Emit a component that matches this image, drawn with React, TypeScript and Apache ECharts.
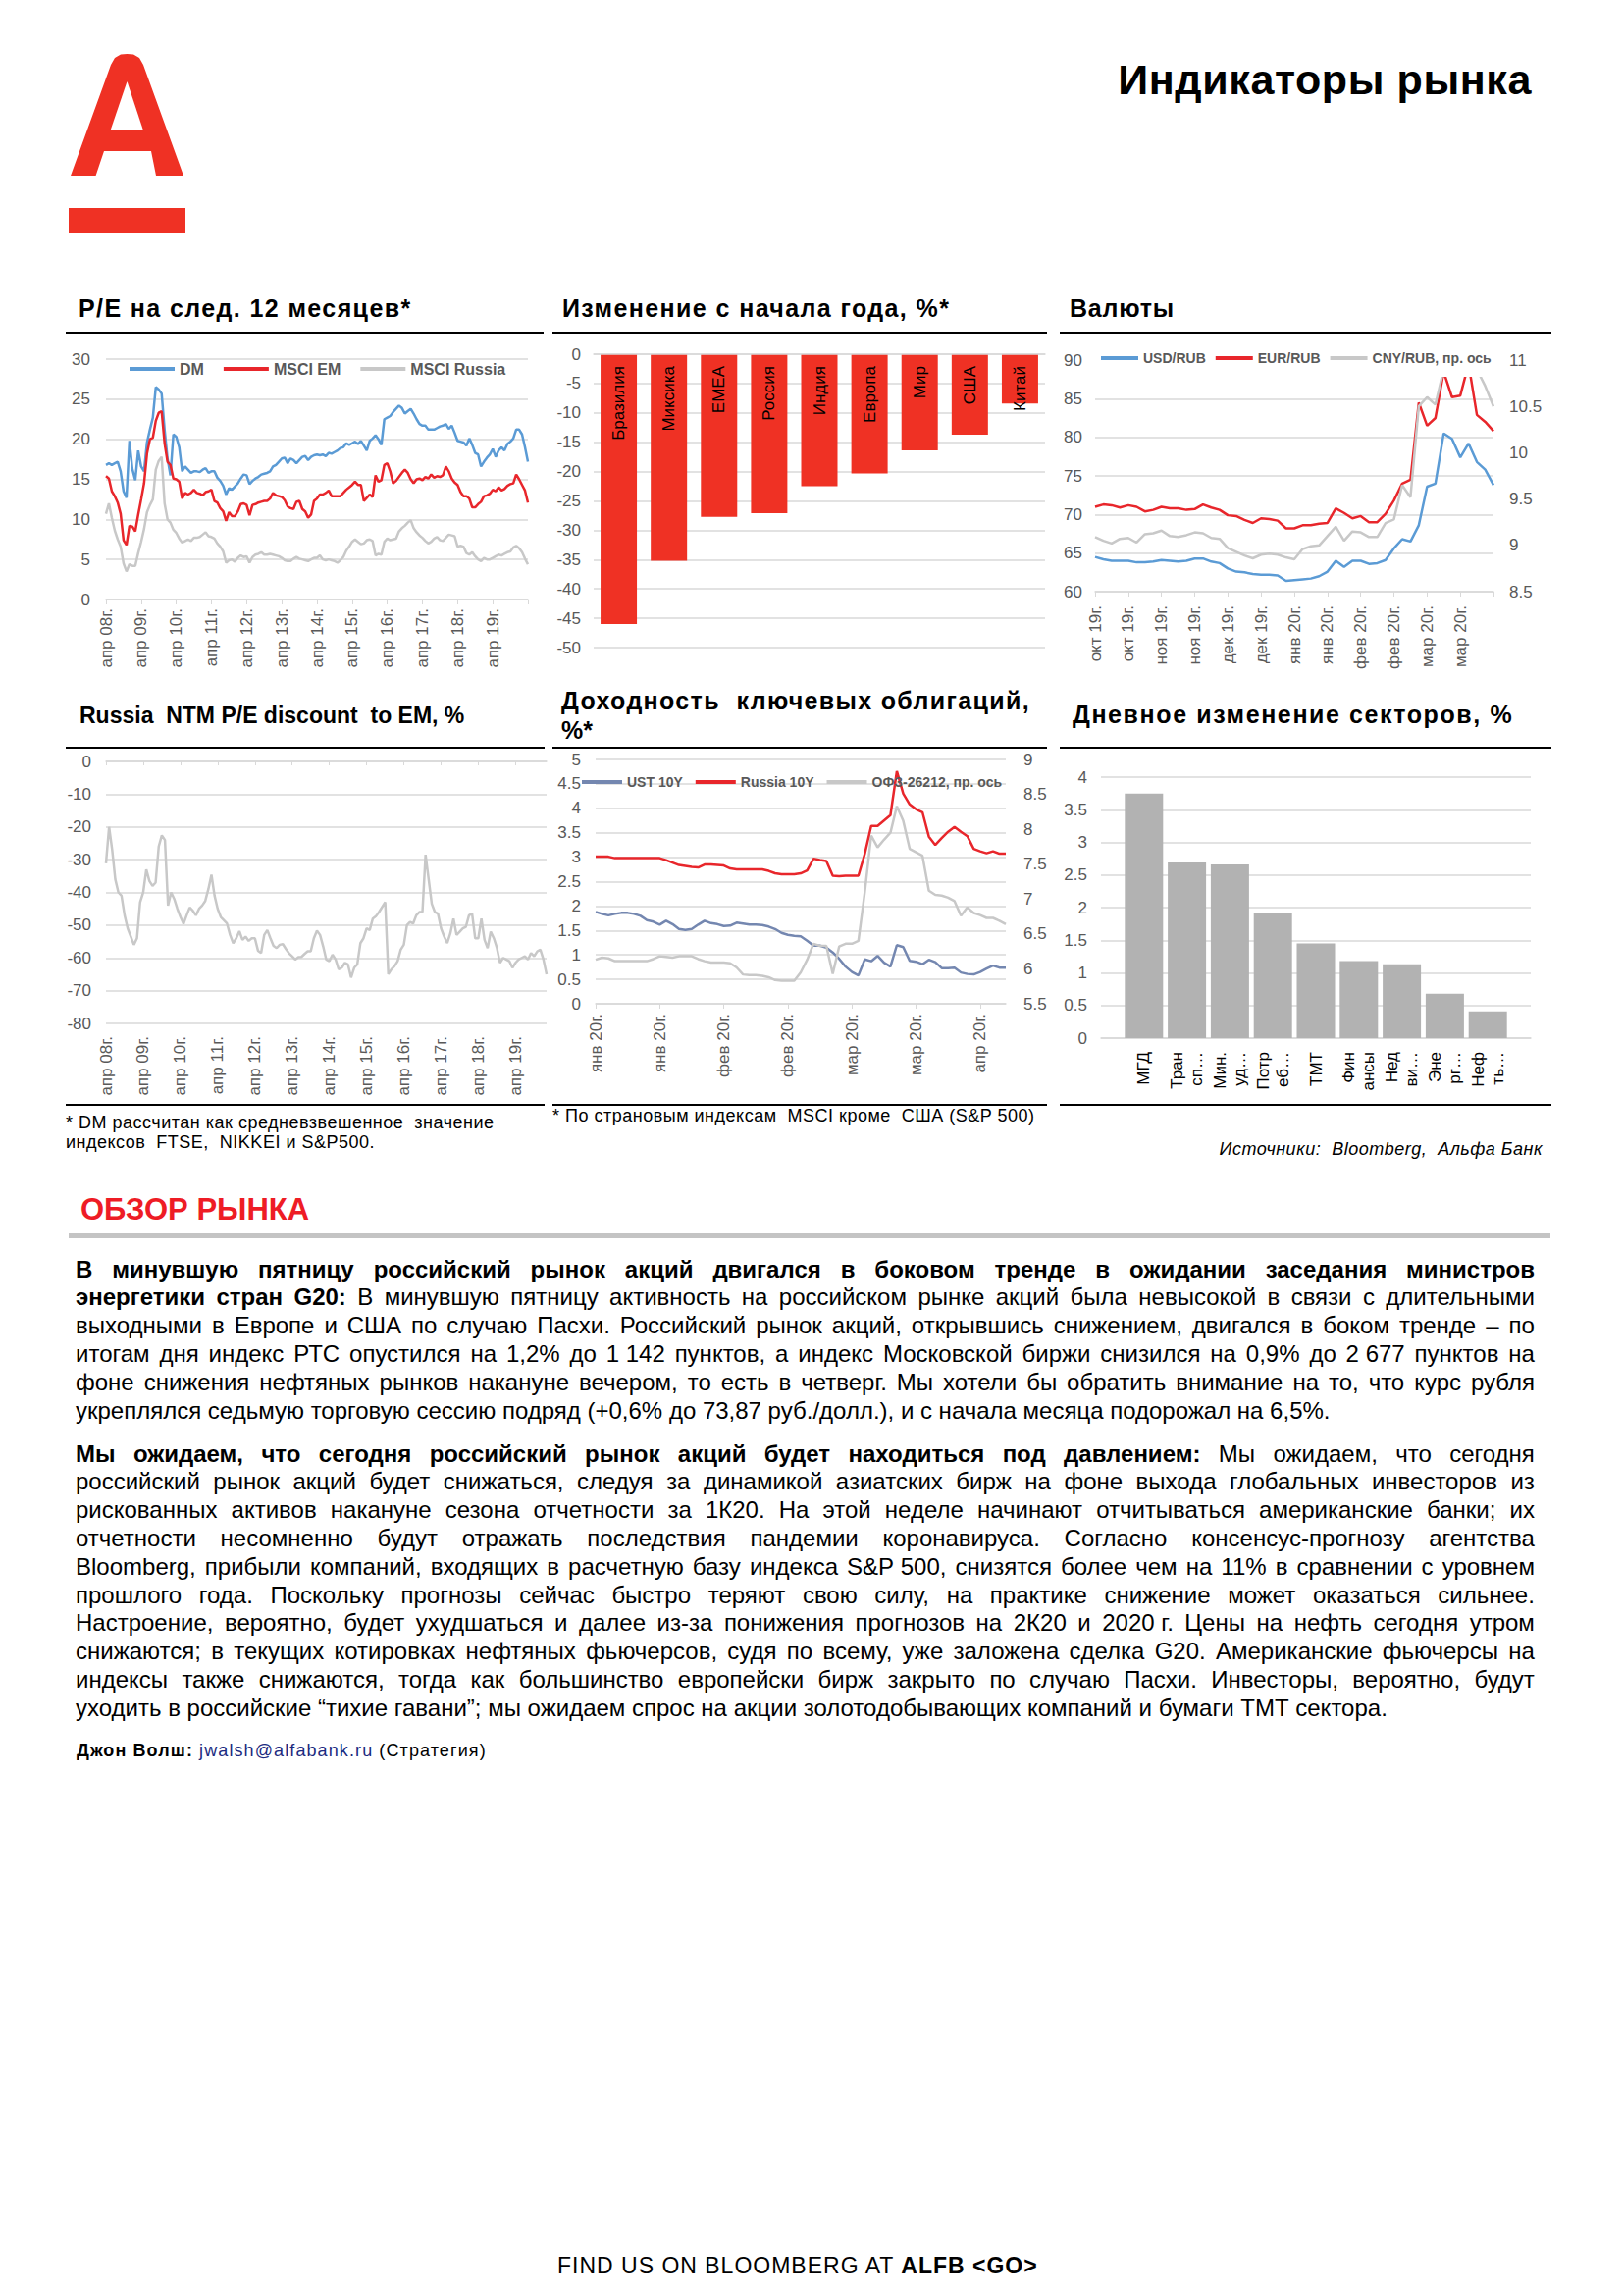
import React, { useEffect, useRef } from "react";
import * as echarts from "echarts";

// ---------- DATA ----------
const peDM = [16.8,17.0,16.8,17.0,17.2,16.0,13.5,12.7,19.8,16.3,14.9,18.6,16.6,16.0,19.6,21.2,22.7,26.5,26.2,25.7,21.2,17.6,15.5,20.6,20.3,19.0,16.0,16.6,16.2,15.8,16.0,16.0,15.9,16.2,16.4,15.8,16.0,16.0,15.2,14.8,14.2,13.1,13.9,13.7,14.1,14.5,15.1,15.6,15.5,14.4,14.8,15.1,15.3,15.6,15.7,15.8,16.0,16.6,16.8,17.2,17.6,17.7,17.0,17.6,17.4,17.0,17.4,17.8,17.9,17.4,17.8,18.0,18.1,18.0,18.1,17.9,18.3,18.2,18.4,18.6,18.9,19.0,19.5,19.3,19.5,19.7,19.4,19.8,19.2,18.6,19.8,20.1,20.5,20.0,19.3,22.5,22.7,22.9,23.4,23.8,24.2,23.9,23.2,23.5,23.8,23.2,22.5,21.9,21.7,21.7,21.2,21.2,21.2,21.4,21.6,21.7,21.9,21.3,21.7,20.8,19.8,19.7,19.6,19.2,20.1,19.3,18.3,18.1,16.6,17.2,17.7,18.1,18.8,17.8,18.6,19.0,18.6,19.4,19.7,20.1,21.2,21.2,20.6,19.0,17.2];
const peEM = [15.4,15.1,13.5,12.9,12.1,10.7,7.4,6.8,9.2,9.1,8.5,10.6,12.5,14.5,18.2,20.0,20.2,22.3,23.3,23.5,19.5,17.2,16.8,15.1,15.0,14.7,12.6,13.3,13.1,13.3,13.7,13.3,13.2,13.0,13.4,13.5,13.7,12.3,12.1,11.4,11.0,9.8,10.9,10.4,10.4,11.0,11.9,12.0,11.8,10.5,11.8,11.9,12.1,12.2,12.3,12.3,12.6,13.3,13.0,12.9,12.8,12.4,11.6,11.4,11.3,12.2,12.3,11.3,11.0,10.2,10.6,12.3,12.6,13.1,13.1,13.3,13.6,12.9,12.9,12.9,12.9,13.3,13.7,14.0,14.3,14.7,14.3,14.3,12.3,12.7,13.1,12.8,15.5,14.7,14.9,16.8,17.0,16.0,14.5,14.8,15.3,15.8,16.2,15.8,15.0,14.5,15.0,15.1,14.9,15.3,15.1,15.6,15.2,15.4,15.3,15.5,16.6,16.0,15.1,14.6,14.3,13.4,12.9,12.9,12.6,11.5,11.5,11.9,12.2,12.9,13.0,13.2,13.7,13.5,14.0,13.6,13.8,14.2,14.4,14.5,15.6,15.0,14.3,13.6,12.1];
const peRU = [10.7,12.0,10.2,8.6,7.5,6.6,4.5,3.5,4.4,4.2,4.2,5.8,7.2,8.8,10.9,11.8,12.5,16.2,17.3,17.8,12.0,10.0,9.6,8.7,8.3,7.6,7.1,7.3,7.5,7.3,7.7,7.7,7.8,8.1,8.4,7.9,7.8,7.6,7.0,6.6,6.0,4.6,4.9,5.0,4.7,5.2,5.5,5.3,5.4,4.6,5.3,5.6,5.7,5.9,5.6,5.6,5.7,5.6,5.5,5.4,5.2,4.9,4.8,4.8,5.1,5.3,5.1,5.0,4.9,4.8,5.0,5.2,5.2,5.5,5.0,4.9,5.0,4.9,4.8,4.6,4.9,5.3,6.1,6.6,7.2,7.5,7.2,6.9,7.0,7.4,7.5,7.3,5.5,5.7,5.6,7.2,7.6,7.4,7.5,7.6,8.5,8.9,9.2,9.6,9.9,8.9,8.4,8.0,7.7,7.3,7.0,7.2,7.6,7.8,7.4,7.3,7.7,8.1,8.0,7.9,6.6,6.7,6.6,5.8,5.6,5.9,5.4,5.0,4.8,5.2,5.0,5.0,5.2,5.4,5.6,5.5,5.7,5.9,6.0,6.5,6.7,6.4,5.9,5.1,4.4];

const ytdNames = ["Бразилия", "Миксика", "EMEA", "Россия", "Индия", "Европа", "Мир", "США", "Китай"];
const ytdValues = [-46.0, -35.2, -27.7, -27.1, -22.5, -20.3, -16.4, -13.7, -8.4];

const curLabels = ["окт 19г.", "окт 19г.", "ноя 19г.", "ноя 19г.", "дек 19г.", "дек 19г.", "янв 20г.", "янв 20г.", "фев 20г.", "фев 20г.", "мар 20г.", "мар 20г."];
const usdRub = [64.5,64.2,64.0,64.0,64.0,63.8,63.8,63.9,64.1,64.0,63.9,64.0,64.3,64.3,63.9,63.7,63.0,62.6,62.5,62.3,62.2,62.2,62.1,61.4,61.5,61.6,61.7,62.0,62.6,64.0,63.2,64.0,64.0,63.6,63.7,64.1,65.6,66.8,66.5,68.6,73.6,74.0,80.5,79.8,77.4,79.2,76.8,75.8,73.8];
const eurRub = [71.0,71.3,71.2,70.9,71.2,71.0,70.4,70.6,71.0,70.8,70.8,70.6,70.7,71.3,70.9,70.6,69.9,69.8,69.3,68.9,69.5,69.4,69.2,68.2,68.2,68.6,68.6,68.8,68.9,70.8,70.2,69.5,69.8,69.0,69.0,70.1,71.8,74.0,74.5,84.5,81.5,82.5,88.5,85.2,85.4,89.5,82.9,82.0,80.8];
const cnyRub = [9.09,9.05,9.02,9.07,9.08,9.03,9.12,9.13,9.16,9.10,9.09,9.11,9.14,9.13,9.08,9.07,8.97,8.93,8.89,8.86,8.90,8.91,8.90,8.87,8.85,8.96,8.99,9.00,9.10,9.20,9.05,9.15,9.14,9.09,9.09,9.24,9.28,9.65,9.52,10.5,10.6,10.52,10.9,10.95,10.95,10.95,10.9,10.72,10.5];

const discount = [-31.1,-20,-27,-36,-40,-41,-47,-51,-53.5,-56,-54,-43,-40,-33,-36.5,-38,-37,-26,-22.6,-24,-44,-40,-42,-45,-47.5,-49.6,-47,-44.6,-45.6,-47,-45,-44,-42.6,-39,-34.6,-41,-45,-47.5,-48.5,-49.5,-53,-55.5,-54,-51.8,-54.5,-53.5,-54.8,-54,-54,-57.8,-58.5,-53,-51.5,-54,-56.3,-57,-56,-55.8,-57.3,-58.6,-59.5,-60.5,-59.8,-59.7,-58.8,-58,-58,-54,-51.7,-53,-56.5,-60.5,-61,-59,-60.5,-63.5,-63,-61.5,-62,-66,-63,-62,-55.5,-54,-51,-51.5,-48,-47.3,-46,-44.5,-43,-65,-63.5,-62.5,-61,-57.5,-56,-50,-49,-49.5,-47,-46,-46,-28.5,-36,-43.5,-46,-46.5,-51,-53.5,-55.5,-52.5,-48,-53,-52,-51,-50.5,-47,-46.5,-54,-54,-48,-54.5,-57,-52,-54,-57,-61.5,-60,-60.5,-61,-63,-61.5,-60.5,-60,-59.5,-60.5,-58.5,-59.5,-58,-57.5,-60.5,-65];

const bondLabels = ["янв 20г.", "янв 20г.", "фев 20г.", "фев 20г.", "мар 20г.", "мар 20г.", "апр 20г."];
const ust10 = [1.88,1.84,1.81,1.84,1.86,1.86,1.84,1.80,1.71,1.68,1.62,1.70,1.63,1.53,1.51,1.53,1.62,1.70,1.65,1.63,1.59,1.60,1.66,1.64,1.62,1.62,1.61,1.58,1.53,1.45,1.41,1.39,1.38,1.29,1.19,1.19,1.15,1.05,0.92,0.76,0.65,0.58,0.91,0.87,0.98,0.84,0.76,1.20,1.16,0.88,0.86,0.81,0.90,0.85,0.73,0.73,0.74,0.64,0.61,0.60,0.65,0.72,0.78,0.74,0.74];
const rus10 = [3.01,3.01,3.01,2.98,2.98,2.98,2.98,2.98,2.98,2.98,2.98,2.94,2.89,2.84,2.82,2.80,2.79,2.85,2.85,2.84,2.83,2.77,2.75,2.75,2.75,2.75,2.75,2.72,2.67,2.65,2.65,2.65,2.67,2.73,2.97,2.94,2.92,2.62,2.61,2.62,2.62,2.62,3.07,3.64,3.64,3.75,3.86,4.76,4.30,4.08,3.98,3.92,3.42,3.25,3.39,3.52,3.62,3.52,3.43,3.17,3.12,3.08,3.12,3.07,3.07];
const ofz = [6.13,6.16,6.15,6.11,6.11,6.11,6.11,6.11,6.11,6.14,6.18,6.17,6.16,6.18,6.18,6.18,6.14,6.11,6.09,6.09,6.09,6.08,6.02,5.92,5.91,5.91,5.90,5.88,5.84,5.83,5.83,5.83,5.95,6.13,6.36,6.33,6.33,5.93,6.32,6.36,6.36,6.40,7.10,7.91,7.74,7.85,7.95,8.33,8.12,7.72,7.67,7.62,7.12,7.06,7.05,7.02,6.97,6.76,6.88,6.80,6.77,6.73,6.73,6.69,6.64];

const sectorNames = ["МГД", "Тран\nсп…", "Мин.\nуд…", "Потр\nеб…", "ТМТ", "Фин\nансы", "Нед\nви…", "Эне\nрг…", "Неф\nть…"];
const sectorValues = [3.75, 2.69, 2.66, 1.92, 1.45, 1.18, 1.13, 0.68, 0.41];

const monthNames = ["янв", "фев", "мар", "апр", "май", "июн", "июл", "авг", "сен", "окт", "ноя", "дек"];

// ---------- TEXT ----------
const para1 = [
  { b: "В минувшую пятницу российский рынок акций двигался в боковом тренде в ожидании заседания министров", r: "" },
  { b: "энергетики стран G20:", r: "В минувшую пятницу активность на российском рынке акций была невысокой в связи с длительными" },
  { b: "", r: "выходными в Европе и США по случаю Пасхи. Российский рынок акций, открывшись снижением, двигался в боком тренде – по" },
  { b: "", r: "итогам дня индекс РТС опустился на 1,2% до 1\u00a0142 пунктов, а индекс Московской биржи снизился на 0,9% до 2\u00a0677 пунктов на" },
  { b: "", r: "фоне снижения нефтяных рынков накануне вечером, то есть в четверг. Мы хотели бы обратить внимание на то, что курс рубля" },
  { b: "", r: "укреплялся седьмую торговую сессию подряд (+0,6% до 73,87 руб./долл.), и с начала месяца подорожал на 6,5%.", last: true },
];
const para2 = [
  { b: "Мы ожидаем, что сегодня российский рынок акций будет находиться под давлением:", r: "Мы ожидаем, что сегодня" },
  { b: "", r: "российский рынок акций будет снижаться, следуя за динамикой азиатских бирж на фоне выхода глобальных инвесторов из" },
  { b: "", r: "рискованных активов накануне сезона отчетности за 1К20. На этой неделе начинают отчитываться американские банки; их" },
  { b: "", r: "отчетности несомненно будут отражать последствия пандемии коронавируса. Согласно консенсус-прогнозу агентства" },
  { b: "", r: "Bloomberg, прибыли компаний, входящих в расчетную базу индекса S&P\u00a0500, снизятся более чем на 11% в сравнении с уровнем" },
  { b: "", r: "прошлого года. Поскольку прогнозы сейчас быстро теряют свою силу, на практике снижение может оказаться сильнее." },
  { b: "", r: "Настроение, вероятно, будет ухудшаться и далее из-за понижения прогнозов на 2К20 и 2020\u00a0г. Цены на нефть сегодня утром" },
  { b: "", r: "снижаются; в текущих котировках нефтяных фьючерсов, судя по всему, уже заложена сделка G20. Американские фьючерсы на" },
  { b: "", r: "индексы также снижаются, тогда как большинство европейски бирж закрыто по случаю Пасхи. Инвесторы, вероятно, будут" },
  { b: "", r: "уходить в российские “тихие гавани”; мы ожидаем спрос на акции золотодобывающих компаний и бумаги ТМТ сектора.", last: true },
];

// ---------- STYLE ----------
const FONT = '"Liberation Sans", Arial, Helvetica, sans-serif';
const GREY = "#595959";
const GRID = "#D9D9D9";
const BLUE = "#5B9BD5";
const RED = "#E8262B";
const LGRAY = "#C8C8C8";
const SLATE = "#7487B0";
const ALFA = "#EF3124";

function monthCats(startMonth: number, startYear: number, n: number) {
  const out: string[] = [];
  for (let i = 0; i < n; i++) {
    const m = (startMonth + i) % 12;
    const y = startYear + Math.floor((startMonth + i) / 12);
    out.push(`${monthNames[m]} ${String(y % 100).padStart(2, "0")}г.`);
  }
  return out;
}

function yAxis(gridIndex: number, min: number, max: number, interval: number, margin: number, extra: any = {}) {
  return {
    type: "value", gridIndex, min, max, interval,
    axisLabel: { color: GREY, fontSize: 17, margin, fontFamily: FONT },
    splitLine: { show: true, lineStyle: { color: GRID, width: 1.5 } },
    axisLine: { show: false }, axisTick: { show: false },
    ...extra,
  };
}

function line(name: string, xi: number, yi: number, data: number[], color: string) {
  return {
    type: "line", name, xAxisIndex: xi, yAxisIndex: yi, data,
    showSymbol: false, symbol: "none", smooth: false,
    lineStyle: { width: 2.5, color }, itemStyle: { color }, z: 3,
  };
}

function buildOption() {
  const peCats = monthCats(3, 2008, peDM.length);
  const discCats = monthCats(3, 2008, discount.length);
  const curCats = usdRub.map((_, i) => "c" + i);
  const bondCats = ust10.map((_, i) => "b" + i);
  const secCats = ["_a", ...sectorNames, "_b"];
  const xLabel = { color: GREY, fontSize: 17, rotate: 90, fontFamily: FONT };
  const axisLineGrey = { show: true, lineStyle: { color: GRID, width: 1.5 } };
  const legendText = { color: GREY, fontWeight: "bold", fontFamily: FONT };

  return {
    animation: false,
    textStyle: { fontFamily: FONT },
    grid: [
      { left: 108, top: 366, width: 430, height: 245 },
      { left: 605, top: 361, width: 460, height: 299 },
      { left: 1116, top: 367, width: 406, height: 236 },
      { left: 108, top: 776, width: 449, height: 267 },
      { left: 607, top: 774, width: 418, height: 249 },
      { left: 1122, top: 792, width: 438, height: 266 },
    ],
    xAxis: [
      {
        type: "category", gridIndex: 0, data: peCats, boundaryGap: false,
        axisLine: axisLineGrey,
        axisTick: { show: true, interval: 11, length: 5, lineStyle: { color: GRID } },
        axisLabel: { ...xLabel, margin: 9, interval: (i: number) => i % 12 === 0 && i < 144 },
      },
      {
        type: "category", gridIndex: 1, data: ytdNames, position: "top", z: 10,
        axisLine: axisLineGrey, axisTick: { show: false },
        axisLabel: { inside: true, rotate: 90, interval: 0, color: "#000", fontSize: 17, margin: 12, fontFamily: FONT },
      },
      {
        type: "category", gridIndex: 2, data: curCats, boundaryGap: false,
        axisLine: axisLineGrey,
        axisTick: { show: true, interval: 3, length: 5, lineStyle: { color: GRID } },
        axisLabel: {
          ...xLabel, margin: 14,
          interval: (i: number) => i % 4 === 0 && i < 48,
          formatter: (_v: string, i: number) => curLabels[Math.round(i / 4)] || "",
        },
      },
      {
        type: "category", gridIndex: 3, data: discCats, boundaryGap: false,
        axisLine: { show: false, onZero: false }, axisTick: { show: false },
        axisLabel: { ...xLabel, margin: 13, interval: 11 },
      },
      {
        type: "category", gridIndex: 3, data: discCats, boundaryGap: false, position: "top",
        axisLine: axisLineGrey,
        axisTick: { show: true, inside: true, interval: 11, length: 4, lineStyle: { color: GRID } },
        axisLabel: { show: false },
      },
      {
        type: "category", gridIndex: 4, data: bondCats, boundaryGap: false,
        axisLine: axisLineGrey,
        axisTick: { show: true, interval: 9, length: 5, lineStyle: { color: GRID } },
        axisLabel: {
          ...xLabel, margin: 10, interval: 9,
          formatter: (_v: string, i: number) => bondLabels[Math.round(i / 10)] || "",
        },
      },
      {
        type: "category", gridIndex: 5, data: secCats, boundaryGap: false,
        axisLine: axisLineGrey, axisTick: { show: false },
        axisLabel: {
          rotate: 90, interval: 0, color: "#000", fontSize: 17, lineHeight: 20, margin: 14, fontFamily: FONT,
          formatter: (v: string) => (v.charAt(0) === "_" ? "" : v),
        },
      },
    ],
    yAxis: [
      yAxis(0, 0, 30, 5, 16),
      yAxis(1, -50, 0, 5, 13),
      yAxis(2, 60, 90, 5, 13),
      yAxis(2, 8.5, 11, 0.5, 16, { position: "right", splitLine: { show: false } }),
      yAxis(3, -80, 0, 10, 15),
      yAxis(4, 0, 5, 0.5, 15),
      yAxis(4, 5.5, 9, 0.5, 18, { position: "right", splitLine: { show: false } }),
      yAxis(5, 0, 4, 0.5, 14),
    ],
    legend: [
      {
        data: ["DM", "MSCI EM", "MSCI Russia"], left: 132, top: 368, padding: 0,
        icon: "rect", itemWidth: 46, itemHeight: 4, itemGap: 20, selectedMode: false,
        textStyle: { ...legendText, fontSize: 16 },
      },
      {
        data: ["USD/RUB", "EUR/RUB", "CNY/RUB, пр. ось"], left: 1116, top: 346, padding: [12, 6, 12, 6],
        backgroundColor: "#ffffff", icon: "rect", itemWidth: 38, itemHeight: 4, itemGap: 10, selectedMode: false,
        textStyle: { ...legendText, fontSize: 14 },
      },
      {
        data: ["UST 10Y", "Russia 10Y", "ОФЗ-26212, пр. ось"], left: 593, top: 790, padding: 0,
        icon: "rect", itemWidth: 41, itemHeight: 4, itemGap: 13, selectedMode: false,
        textStyle: { ...legendText, fontSize: 14 },
      },
    ],
    series: [
      line("MSCI Russia", 0, 0, peRU, LGRAY),
      line("DM", 0, 0, peDM, BLUE),
      line("MSCI EM", 0, 0, peEM, RED),
      {
        type: "bar", name: "ytd", xAxisIndex: 1, yAxisIndex: 1, data: ytdValues,
        barWidth: 37, itemStyle: { color: ALFA },
      },
      line("USD/RUB", 2, 2, usdRub, BLUE),
      line("EUR/RUB", 2, 2, eurRub, RED),
      line("CNY/RUB, пр. ось", 2, 3, cnyRub, LGRAY),
      line("discount", 3, 4, discount, LGRAY),
      line("UST 10Y", 5, 5, ust10, SLATE),
      line("ОФЗ-26212, пр. ось", 5, 6, ofz, LGRAY),
      line("Russia 10Y", 5, 5, rus10, RED),
      {
        type: "bar", name: "sectors", xAxisIndex: 6, yAxisIndex: 7,
        data: [null, ...sectorValues, null], barWidth: 39, itemStyle: { color: "#B2B2B2" },
      },
    ],
    graphic: [
      {
        type: "polygon",
        shape: { points: [[72, 179], [97.6, 179], [106, 154], [154, 154], [159, 179], [187, 179], [146, 66], [142, 59], [136, 55.5], [129.5, 55], [123, 55.5], [117, 59], [113, 66]] },
        style: { fill: ALFA },
      },
      { type: "polygon", shape: { points: [[129.5, 83], [112.5, 133], [146, 133]] }, style: { fill: "#ffffff" } },
      { type: "rect", shape: { x: 70, y: 212, width: 119, height: 25 }, style: { fill: ALFA } },
    ],
  };
}

// ---------- HTML helpers ----------
function T(props: { x?: number; right?: number; base: number; size: number; bold?: boolean; italic?: boolean; color?: string; ls?: number; children: any }) {
  const { x, right, base, size, bold, italic, color, ls, children } = props;
  const style: any = {
    position: "absolute", top: base - 0.8465 * size, fontSize: size, lineHeight: `${size}px`,
    fontWeight: bold ? "bold" : "normal", fontStyle: italic ? "italic" : "normal",
    color: color || "#000", whiteSpace: "pre", letterSpacing: ls ? `${ls}px` : undefined,
  };
  if (right !== undefined) { style.right = right; style.textAlign = "right"; } else style.left = x;
  return <div style={style}>{children}</div>;
}

function Rule(props: { x1: number; x2: number; y: number; h?: number; color?: string }) {
  return <div style={{ position: "absolute", left: props.x1, top: props.y, width: props.x2 - props.x1, height: props.h || 2, background: props.color || "#000" }} />;
}

function ParaLine(props: { line: any; base: number }) {
  const { line, base } = props;
  const size = 24;
  const top = base - 0.8465 * size;
  if (line.last) {
    return (
      <div style={{ position: "absolute", left: 77, top, fontSize: size, lineHeight: `${size}px`, whiteSpace: "pre" }}>
        {line.b ? <b>{line.b} </b> : null}{line.r}
      </div>
    );
  }
  const words: { t: string; b: boolean }[] = [];
  if (line.b) line.b.split(" ").forEach((t: string) => words.push({ t, b: true }));
  if (line.r) line.r.split(" ").forEach((t: string) => words.push({ t, b: false }));
  return (
    <div style={{ position: "absolute", left: 77, top, width: 1487, display: "flex", justifyContent: "space-between", fontSize: size, lineHeight: `${size}px`, whiteSpace: "pre" }}>
      {words.map((w, i) => (
        <span key={i} style={{ fontWeight: w.b ? "bold" : "normal" }}>{w.t}</span>
      ))}
    </div>
  );
}

export default function App() {
  const ref = useRef<HTMLDivElement>(null);
  useEffect(() => {
    if (!ref.current) return;
    const chart = echarts.init(ref.current, undefined, { renderer: "svg" });
    chart.setOption(buildOption() as any);
    return () => chart.dispose();
  }, []);

  const p1Base = 1302, p2Base = 1490, lh = 28.8;

  return (
    <div style={{ position: "absolute", left: 0, top: 0, width: 1655, height: 2340, background: "#fff", fontFamily: FONT, color: "#000", overflow: "hidden" }}>
      <div ref={ref} style={{ position: "absolute", left: 0, top: 0, width: 1655, height: 1200 }} />

      <T right={94} base={96} size={43} bold ls={0.6}>Индикаторы рынка</T>

      <T x={80} base={323} size={25} bold ls={1.4}>P/E на след. 12 месяцев*</T>
      <T x={573} base={323} size={25} bold ls={1.4}>Изменение с начала года, %*</T>
      <T x={1090} base={323} size={25} bold ls={0.8}>Валюты</T>
      <Rule x1={67} x2={554} y={338} />
      <Rule x1={563} x2={1067} y={338} />
      <Rule x1={1080} x2={1581} y={338} />

      <T x={81} base={737} size={23} bold>Russia  NTM P/E discount  to EM, %</T>
      <T x={572} base={723} size={25} bold ls={1.35}>Доходность  ключевых облигаций,</T>
      <T x={572} base={753} size={25} bold>%*</T>
      <T x={1093} base={737} size={25} bold ls={1.6}>Дневное изменение секторов, %</T>
      <Rule x1={67} x2={555} y={761} />
      <Rule x1={563} x2={1067} y={761} />
      <Rule x1={1080} x2={1581} y={761} />

      <Rule x1={67} x2={555} y={1125} />
      <Rule x1={563} x2={1067} y={1125} />
      <Rule x1={1080} x2={1581} y={1125} />

      <T x={67} base={1150} size={18} ls={0.5}>* DM рассчитан как средневзвешенное  значение</T>
      <T x={67} base={1170} size={18} ls={0.5}>индексов  FTSE,  NIKKEI и S&amp;P500.</T>
      <T x={563} base={1143} size={18} ls={0.5}>* По страновым индексам  MSCI кроме  США (S&amp;P 500)</T>
      <T right={83} base={1177} size={18} italic ls={0.5}>Источники:  Bloomberg,  Альфа Банк</T>

      <T x={82} base={1243} size={31} bold color="#EE1C25">ОБЗОР РЫНКА</T>
      <Rule x1={70} x2={1580} y={1257} h={5} color="#C4C4C4" />

      {para1.map((l, i) => <ParaLine key={"a" + i} line={l} base={p1Base + i * lh} />)}
      {para2.map((l, i) => <ParaLine key={"b" + i} line={l} base={p2Base + i * lh} />)}

      <div style={{ position: "absolute", left: 78, top: 1790 - 0.8465 * 18, fontSize: 18, lineHeight: "18px", whiteSpace: "pre", letterSpacing: "1.1px" }}>
        <b>Джон Волш:</b> <span style={{ color: "#1B2A80" }}>jwalsh@alfabank.ru</span> <span>(Стратегия)</span>
      </div>

      <div style={{ position: "absolute", left: 568, top: 2317 - 0.8465 * 23, fontSize: 23, lineHeight: "23px", whiteSpace: "pre", letterSpacing: "1px" }}>
        FIND US ON BLOOMBERG AT <b>ALFB &lt;GO&gt;</b>
      </div>
    </div>
  );
}
